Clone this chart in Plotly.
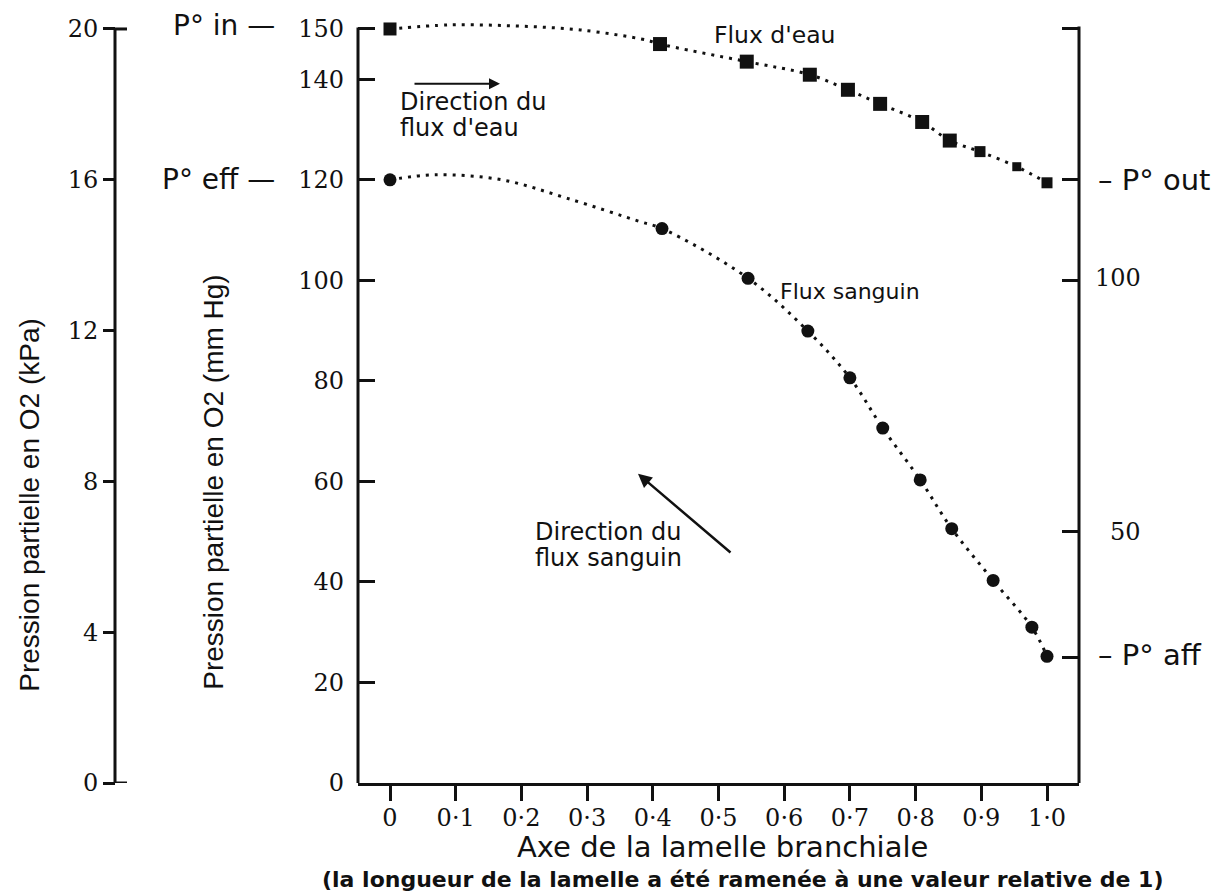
import plotly.graph_objects as go

# ---------------- data ----------------
x_ticks = [0, 0.1, 0.2, 0.3, 0.4, 0.5, 0.6, 0.7, 0.8, 0.9, 1.0]
x_tick_labels = ["0", "0·1", "0·2", "0·3", "0·4", "0·5", "0·6", "0·7", "0·8", "0·9", "1·0"]
mmhg_ticks = [0, 20, 40, 60, 80, 100, 120, 140, 150]
mmhg_labels = ["0", "20", "40", "60", "80", "100", "120", "140", "150"]
kpa_ticks = [0, 4, 8, 12, 16, 20]
kpa_labels = ["0", "4", "8", "12", "16", "20"]
right_ticks = [25, 50, 100, 120, 150]

# water flow (squares), mm Hg
water_x = [0, 0.411, 0.543, 0.639, 0.697, 0.746, 0.810, 0.852, 0.898, 0.954, 1.0]
water_y = [150, 147.0, 143.5, 140.9, 137.9, 135.1, 131.5, 127.8, 125.6, 122.6, 119.4]
water_size = [13, 14, 14, 14, 14, 14, 14, 14, 11, 9, 11]
# dotted curve traced between the first two water points
water_curve_x = [0, 0.09, 0.19, 0.29, 0.39]
water_curve_y = [150, 150.8, 150.6, 149.8, 147.8]

# blood flow (circles), mm Hg
blood_x = [0, 0.414, 0.545, 0.636, 0.700, 0.750, 0.807, 0.855, 0.918, 0.977, 1.0]
blood_y = [120, 110.3, 100.4, 89.9, 80.6, 70.6, 60.3, 50.6, 40.3, 31.0, 25.2]
# dotted curve traced between the first two blood points
blood_curve_x = [0, 0.07, 0.17, 0.27, 0.38]
blood_curve_y = [120, 121.0, 120.0, 116.3, 111.7]

MMHG_PER_KPA = 7.5

# ---------------- layout geometry ----------------
OFF = 8                      # page body margin
W, H = 1230 - OFF, 896 - OFF
L, R, T, B = 52, 60, 7, 113
PW, PH = W - L - R, H - T - B


def px_x(px):               # reference-screen pixel -> paper x
    return (px - OFF - L) / PW


def px_y(py):               # reference-screen pixel -> paper y
    return (H - B - (py - OFF)) / PH


x_left_px, x_right_px = 358, 1079
x0_px, x_scale = 390, 657.0           # pixel of x=0 and px per unit
y_scale = 5.04                         # px per mm Hg
x_range = [(x_left_px - x0_px) / x_scale, (x_right_px - x0_px) / x_scale]
y_top = PH / y_scale
y_range = [0, y_top]

SANS = "DejaVu Sans"
SERIF = "DejaVu Serif"
BLACK = "#111111"

fig = go.Figure()

dot = "3px,6px"
fig.add_trace(go.Scatter(
    x=water_curve_x + water_x[1:], y=water_curve_y + water_y[1:],
    mode="lines", line=dict(color=BLACK, width=3, dash=dot, shape="spline", smoothing=1.0),
    hoverinfo="skip", showlegend=False))
fig.add_trace(go.Scatter(
    x=blood_curve_x + blood_x[1:], y=blood_curve_y + blood_y[1:],
    mode="lines", line=dict(color=BLACK, width=3, dash=dot, shape="spline", smoothing=1.0),
    hoverinfo="skip", showlegend=False))
fig.add_trace(go.Scatter(
    x=water_x, y=water_y, mode="markers", name="Flux d'eau",
    marker=dict(symbol="square", size=water_size, color=BLACK, opacity=1,
                line=dict(width=0)),
    cliponaxis=False, showlegend=False))
fig.add_trace(go.Scatter(
    x=blood_x, y=blood_y, mode="markers", name="Flux sanguin",
    marker=dict(symbol="circle", size=13, color=BLACK, opacity=1, line=dict(width=0)),
    cliponaxis=False, showlegend=False))
# anchor traces for the extra axes
fig.add_trace(go.Scatter(x=[None], y=[None], yaxis="y2", showlegend=False, hoverinfo="skip"))
fig.add_trace(go.Scatter(x=[None], y=[None], yaxis="y3", showlegend=False, hoverinfo="skip"))

fig.update_layout(
    width=W, height=H,
    margin=dict(l=L, r=R, t=T, b=B),
    paper_bgcolor="white", plot_bgcolor="white",
    showlegend=False,
    xaxis=dict(
        domain=[px_x(x_left_px), px_x(x_right_px)],
        range=x_range, showgrid=False, zeroline=False,
        showline=True, linecolor=BLACK, linewidth=3,
        ticks="outside", ticklen=15, tickwidth=3, tickcolor=BLACK,
        tickvals=x_ticks, ticktext=x_tick_labels,
        tickfont=dict(family=SERIF, size=24, color=BLACK),
        ticklabelstandoff=-4,
    ),
    yaxis=dict(
        range=y_range, showgrid=False, zeroline=False, showline=False,
        ticks="inside", ticklen=17, tickwidth=3, tickcolor=BLACK,
        tickvals=mmhg_ticks, ticktext=mmhg_labels,
        tickfont=dict(family=SERIF, size=24, color=BLACK),
        ticklabelstandoff=13,
    ),
    yaxis2=dict(
        range=[0, y_top / MMHG_PER_KPA], overlaying="y", anchor="free",
        position=px_x(115), side="left",
        showgrid=False, zeroline=False, showline=False,
        ticks="outside", ticklen=12, tickwidth=3, tickcolor=BLACK,
        tickvals=kpa_ticks, ticktext=kpa_labels,
        tickfont=dict(family=SERIF, size=24, color=BLACK),
    ),
    yaxis3=dict(
        range=y_range, overlaying="y", anchor="x", side="right",
        showgrid=False, zeroline=False, showline=False,
        ticks="inside", ticklen=17, tickwidth=3, tickcolor=BLACK,
        tickvals=right_ticks, showticklabels=False,
    ),
)

# axis lines (drawn as shapes so the dotted curves can rise above the axis tops)
shapes = [
    dict(type="line", xref="x domain", yref="y", x0=0, x1=0, y0=0, y1=150.3,
         line=dict(color=BLACK, width=3)),
    dict(type="line", xref="x domain", yref="y", x0=1, x1=1, y0=0, y1=150.5,
         line=dict(color=BLACK, width=3)),
    dict(type="line", xref="paper", yref="y2", x0=px_x(115), x1=px_x(115), y0=0, y1=20,
         line=dict(color=BLACK, width=3)),
    dict(type="line", xref="paper", yref="y2", x0=px_x(115), x1=px_x(127), y0=20, y1=20,
         line=dict(color=BLACK, width=3)),
    dict(type="line", xref="paper", yref="y2", x0=px_x(115), x1=px_x(127), y0=0, y1=0,
         line=dict(color=BLACK, width=3)),
]
fig.update_layout(shapes=shapes)

ann = []


def text(t, x, y, size, xanchor="left", xref="x", yref="y", family=SANS, angle=0, bold=False):
    if bold:
        t = "<b>" + t + "</b>"
    ann.append(dict(text=t, x=x, y=y, xref=xref, yref=yref, xanchor=xanchor, yanchor="middle",
                    showarrow=False, textangle=angle,
                    font=dict(family=family, size=size, color=BLACK)))


# left labels
text("P° in —", px_x(277), 150.6, 28, xanchor="right", xref="paper")
text("P° eff —", px_x(277), 120, 28, xanchor="right", xref="paper")
# right labels
text("– P° out", px_x(1096), 120, 29, xanchor="left", xref="paper")
text("– P° aff", px_x(1096), 25.4, 29, xanchor="left", xref="paper")
text("100", px_x(1143), 100.4, 24, xanchor="right", xref="paper", family=SERIF)
text("50", px_x(1143), 50, 24, xanchor="right", xref="paper", family=SERIF)

# in-plot texts
text("Flux d'eau", (712 - x0_px) / x_scale, 148.8, 23.5)
text("Direction du", (398 - x0_px) / x_scale, 135.5, 24)
text("flux d'eau", (398 - x0_px) / x_scale, 130.4, 24)
text("Flux sanguin", (778 - x0_px) / x_scale, 97.8, 22)
text("Direction du", (533 - x0_px) / x_scale, 50.0, 24)
text("flux sanguin", (533 - x0_px) / x_scale, 44.8, 24)

# axis titles
text("Pression partielle en O2 (kPa)", px_x(30), px_y(504), 28, xanchor="center",
     xref="paper", yref="paper", family="Liberation Sans", angle=-90)
text("Pression partielle en O2 (mm Hg)", px_x(214), px_y(482), 28, xanchor="center",
     xref="paper", yref="paper", family="Liberation Sans", angle=-90)
text("Axe de la lamelle branchiale", px_x(722), px_y(847), 29, xanchor="center",
     xref="paper", yref="paper")
text("(la longueur de la lamelle a été ramenée à une valeur relative de 1)", px_x(742),
     px_y(880), 22, xanchor="center", xref="paper", yref="paper", bold=True)

# direction arrows
ann.append(dict(x=(500 - x0_px) / x_scale, y=(783 - 82) / y_scale, xref="x", yref="y",
                ax=-87, ay=0, text="", showarrow=True, arrowhead=2, arrowsize=1.1,
                arrowwidth=2, arrowcolor=BLACK, standoff=0))
ann.append(dict(x=(638 - x0_px) / x_scale, y=(783 - 473) / y_scale, xref="x", yref="y",
                ax=94, ay=80, text="", showarrow=True, arrowhead=2, arrowsize=1.1,
                arrowwidth=2.5, arrowcolor=BLACK, standoff=0))

fig.update_layout(annotations=ann)

fig.write_html("out.html", config={"displayModeBar": False})
